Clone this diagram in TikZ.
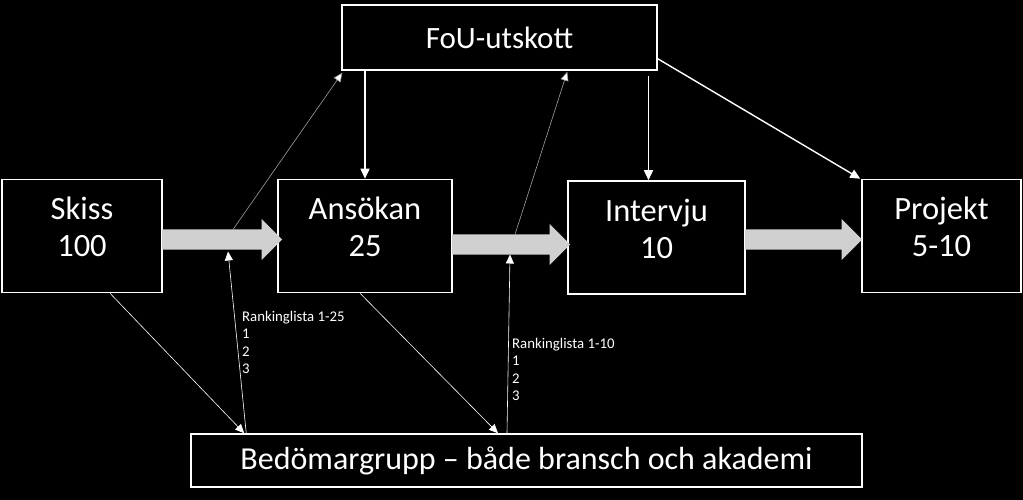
\documentclass[tikz,border=0pt]{standalone}
\usepackage{fontspec}
\setmainfont{Carlito}
\usetikzlibrary{arrows.meta,shapes.arrows,calc}
\definecolor{arrowgray}{RGB}{208,208,208}
\definecolor{feedgray}{RGB}{160,160,160}

\begin{document}
\begin{tikzpicture}[x=1pt,y=-1pt,
  every node/.style={text=white},
  box/.style={draw=white, line width=1.5pt, fill=black, inner sep=0pt},
  boxtext/.style={font=\fontsize{32.5}{37}\selectfont, align=center},
  bigarrow/.style={single arrow, fill=arrowgray, draw=none, inner sep=10pt,
                   single arrow head extend=10.5pt, single arrow tip angle=90,
                   anchor=tail},
  link/.style={draw=white, line width=1.4pt, -{Triangle[width=9pt,length=10pt]}},
  feed/.style={draw=feedgray, line width=0.6pt, -{Triangle[width=8pt,length=9pt,fill=white]}},
  ranklist/.style={font=\fontsize{14.8}{17.3}\selectfont, align=left,
                   anchor=north west, inner sep=0pt}
]
\fill[black] (0,0) rectangle (1023,500);
\useasboundingbox (0,0) rectangle (1023,500);

% main boxes
\node[box, minimum width=160pt, minimum height=113pt] (skiss) at (82,236) {};
\node[box, minimum width=174pt, minimum height=113pt] (ans)   at (365,236) {};
\node[box, minimum width=177pt, minimum height=113pt] (intv)  at (656.5,237.5) {};
\node[box, minimum width=159pt, minimum height=113pt] (proj)  at (941.5,236) {};
\node[box, minimum width=315pt, minimum height=65pt, font=\fontsize{31}{37}\selectfont]
  (fou) at (499.5,37.5) {FoU-utskott};
\node[box, minimum width=671pt, minimum height=53pt, font=\fontsize{32}{37}\selectfont]
  (bed) at (526.5,460.5) {Bedömargrupp -- både bransch och akademi};

% box texts
\foreach \nd/\lbl in {skiss/{Skiss\\100}, ans/{Ansökan\\25},
                      intv/{Intervju\\10}, proj/{Projekt\\5-10}}
  \node[boxtext] (\nd-t) at ($(\nd.center)+(0,-9)$) {\lbl};

% flow arrows
\node[bigarrow, minimum height=120pt] (a1) at (162,239.5) {};
\node[bigarrow, minimum height=118pt] (a2) at (452,244.5) {};
\node[bigarrow, minimum height=117pt] (a3) at (745,239.5) {};

% FoU decisions
\draw[link] (ans.north |- fou.south) -- (ans.north);
\draw[link] ($(intv.north |- fou.south)+(-8,5)$) -- ($(intv.north)+(-8,0)$);
\draw[link] ($(fou.south east)+(0,-12)$) -- ($(proj.north west)+(-1,0)$);

% feedback to FoU
\draw[feed] ($(a1.tail)+(71,-10)$) -- ($(fou.south west)+(1,2)$);
\draw[feed] ($(a2.tail)+(63,-10)$) -- ($(fou.south west)+(226,1)$);

% to and from Bedömargrupp
\draw[feed, draw=white] ($(skiss.south)+(28,0)$) -- ($(bed.north west)+(54,0)$);
\draw[feed, draw=white] ($(ans.south)+(-5,0)$) -- ($(bed.north)+(-28.5,0)$);
\draw[feed, draw=white] ($(bed.north west)+(56,0)$) -- ($(a1.tail)+(66,12)$);
\draw[feed, draw=white] ($(bed.north)+(-19.5,0)$) -- ($(a2.tail)+(58,10)$);

% ranking lists
\node[ranklist] (rank25) at (242,311) {Rankinglista 1-25\\1\\2\\3};
\node[ranklist] (rank10) at (512,338) {Rankinglista 1-10\\1\\2\\3};
\end{tikzpicture}
\end{document}
